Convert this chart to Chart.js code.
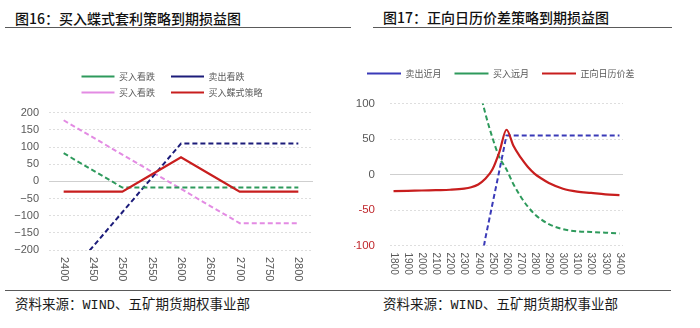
<!DOCTYPE html>
<html lang="zh-CN">
<head>
<meta charset="utf-8">
<title>蝶式套利 / 日历价差 到期损益图</title>
<script src="https://cdn.jsdelivr.net/npm/chart.js@4.4.1/dist/chart.umd.min.js"></script>
<style>
  html, body { margin: 0; padding: 0; background: #fff; }
  body { width: 700px; height: 328px; position: relative; overflow: hidden; font-family: "Noto Sans CJK SC", sans-serif; }
  .title { position: absolute; font-size: 14px; font-weight: 500; line-height: 1; color: #111; white-space: nowrap; }
  .rule { position: absolute; height: 0; border-top: 1.5px solid #5a5a5a; }
  .source { position: absolute; font-size: 13.5px; line-height: 1; color: #1a1a1a; white-space: nowrap;
            font-family: "Liberation Mono", "Noto Sans CJK SC", monospace; }
  canvas { position: absolute; }
</style>
</head>
<body>

<div class="title" style="left:15px; top:11px;">图16：买入蝶式套利策略到期损益图</div>
<div class="rule" style="left:5px; top:27px; width:346px;"></div>
<canvas id="chartButterfly" width="350" height="220" style="left:0; top:65px;"></canvas>

<div class="title" style="left:383px; top:10px;">图17：正向日历价差策略到期损益图</div>
<div class="rule" style="left:373px; top:26.5px; width:299px;"></div>
<canvas id="chartCalendar" width="350" height="229" style="left:350px; top:56px;"></canvas>

<div class="rule" style="left:5px; top:290px; width:666px;"></div>
<div class="source" style="left:15px; top:299px;">资料来源：WIND、五矿期货期权事业部</div>
<div class="source" style="left:383px; top:299px;">资料来源：WIND、五矿期货期权事业部</div>

<script>
// ── 图16 数据：标的价格（类目）与各腿到期损益
const flyPrices   = ['2400','2450','2500','2550','2600','2650','2700','2750','2800'];
const flyBuyPutA  = [82, 32, -18, -18, -18, -18, -18, -18, -18];        // 买入看跌（绿）
const flySellPut  = [-290, -190, -90, 10, 110, 110, 110, 110, 110];     // 卖出看跌（深蓝）
const flyBuyPutB  = [178, 128, 78, 28, -22, -72, -122, -122, -122];     // 买入看跌（粉）
const flyStrategy = [-30, -30, -30, 20, 70, 20, -30, -30, -30];         // 买入蝶式策略（红）

// ── 图17 数据：标的价格与各腿到期损益
const calPrices   = [1800, 1900, 2000, 2100, 2200, 2300, 2350, 2400, 2450, 2500, 2550, 2600,
                     2650, 2700, 2750, 2800, 2850, 2900, 3000, 3100, 3200, 3300, 3400];
const calSellNear = [null, null, null, null, null, null, null, -145, -90, -42, 6, 55,
                     55, 55, 55, 55, 55, 55, 55, 55, 55, 55, 55];
const calBuyFar   = [null, null, null, null, null, null, null, 127, 86, 52, 24, 7,
                     -14, -31, -45, -56, -64, -70, -77, -80, -81, -82, -83];
const calSpread   = [-23.5, -23, -22.5, -22, -21.5, -20, -18, -14, -6, 7, 32, 63,
                     40, 24, 11, 1, -6, -12, -20, -24, -26, -28, -29];
const calTicks    = [1800, 1900, 2000, 2100, 2200, 2300, 2400, 2500, 2600, 2700, 2800,
                     2900, 3000, 3100, 3200, 3300, 3400];

const GRAY = '#595959';
const CJK  = '"Noto Sans CJK SC", sans-serif';

// Rótulos do eixo x rodados 90° no sentido horário (o Chart.js só roda ao contrário)
const verticalTicks = {
  id: 'verticalTicks',
  afterDraw(chart, args, opts) {
    const scale = chart.scales.x;
    const ctx = chart.ctx;
    ctx.save();
    ctx.font = opts.font;
    ctx.fillStyle = GRAY;
    ctx.textAlign = 'left';
    ctx.textBaseline = 'middle';
    scale.ticks.forEach((t, i) => {
      ctx.save();
      ctx.translate(scale.getPixelForTick(i), scale.top + opts.gap);
      ctx.rotate(Math.PI / 2);
      ctx.fillText(t.label, 0, 0);
      ctx.restore();
    });
    ctx.restore();
  }
};

// Espaço extra entre a legenda e a área do gráfico
const legendGap = {
  id: 'legendGap',
  beforeInit(chart, args, opts) {
    const fit = chart.legend.fit;
    chart.legend.fit = function () {
      fit.call(this);
      this.height += opts.extra;
    };
  }
};

function dashed(label, data, color, extra) {
  return Object.assign({
    label, data,
    borderColor: color, backgroundColor: color,
    borderWidth: 2, borderDash: [5, 3],
    pointRadius: 0, tension: 0, fill: false
  }, extra || {});
}

function gridDash(ctx) {
  return ctx.tick && ctx.tick.value === 0 ? [] : [2, 2];
}
function gridColor(ctx) {
  return ctx.tick && ctx.tick.value === 0 ? '#cfcfcf' : '#dedede';
}

// ── 图16
const flyPad = ['\u3000', '\u3000\u3000\u3000\u3000', '\u3000', '\u3000\u3000'];
new Chart(document.getElementById('chartButterfly'), {
  type: 'line',
  data: {
    labels: flyPrices,
    datasets: [
      dashed('买入看跌', flyBuyPutA, '#2e9a5c'),
      dashed('卖出看跌', flySellPut, '#1c1c7a'),
      dashed('买入看跌', flyBuyPutB, '#e38be3'),
      { label: '买入蝶式策略', data: flyStrategy, borderColor: '#c81e1e', backgroundColor: '#c81e1e',
        borderWidth: 2.2, pointRadius: 0, tension: 0, fill: false, order: -1 }
    ]
  },
  options: {
    responsive: false,
    animation: false,
    layout: { padding: { left: 0, right: 37, top: 0, bottom: 0 } },
    plugins: {
      legend: {
        fullSize: false,
        labels: {
          usePointStyle: true, pointStyle: 'line', pointStyleWidth: 33,
          padding: 7, color: GRAY, font: { family: CJK, size: 9 },
          sort: (a, b) => a.datasetIndex - b.datasetIndex,
          generateLabels(chart) {
            const items = Chart.defaults.plugins.legend.labels.generateLabels(chart);
            items.forEach(it => { it.text += flyPad[it.datasetIndex]; });
            return items;
          }
        }
      },
      tooltip: { enabled: false },
      legendGap: { extra: 5.7 },
      verticalTicks: { font: '11px "Liberation Sans Narrow", "Liberation Sans", sans-serif', gap: 7 }
    },
    scales: {
      x: {
        offset: true,
        grid: { display: false },
        border: { display: false },
        ticks: { display: false },
        afterFit(scale) { scale.height = 35; }
      },
      y: {
        min: -200, max: 200,
        grid: { drawTicks: false, color: gridColor },
        border: { display: false, dash: gridDash },
        ticks: {
          stepSize: 50, padding: 10, color: GRAY,
          font: { family: '"Liberation Sans Narrow", "Liberation Sans", sans-serif', size: 11 },
          callback: v => v < 0 ? '\u2212' + Math.abs(v) : String(v)
        },
        afterFit(scale) { scale.width = 49; }
      }
    }
  },
  plugins: [verticalTicks, legendGap]
});

// ── 图17
new Chart(document.getElementById('chartCalendar'), {
  type: 'line',
  data: {
    labels: calPrices,
    datasets: [
      dashed('卖出近月', calSellNear, '#3a3ab8'),
      dashed('买入远月', calBuyFar, '#2e9a5c', { cubicInterpolationMode: 'monotone' }),
      { label: '正向日历价差', data: calSpread, borderColor: '#c81e1e', backgroundColor: '#c81e1e',
        borderWidth: 2.2, pointRadius: 0, cubicInterpolationMode: 'monotone', fill: false, order: -1 }
    ]
  },
  options: {
    responsive: false,
    animation: false,
    // a legenda ocupa a largura toda; o espaço à direita da área do gráfico vem do eixo "margem"
    layout: { padding: { left: 4, right: 48, top: 0, bottom: 0 } },
    plugins: {
      legend: {
        align: 'start',
        labels: {
          usePointStyle: true, pointStyle: 'line', pointStyleWidth: 34,
          padding: 13, color: GRAY, font: { family: CJK, size: 9 },
          sort: (a, b) => a.datasetIndex - b.datasetIndex
        }
      },
      tooltip: { enabled: false },
      legendGap: { extra: 15.5 },
      verticalTicks: { font: '10px "Liberation Sans", sans-serif', gap: 7 }
    },
    scales: {
      x: {
        type: 'linear',
        min: 1775, max: 3425,
        grid: { display: false },
        border: { display: false },
        ticks: { display: false, callback: v => String(v) },
        afterBuildTicks(scale) { scale.ticks = calTicks.map(v => ({ value: v })); },
        afterFit(scale) { scale.height = 39.5; }
      },
      y: {
        min: -100, max: 100,
        grid: { drawTicks: false, color: gridColor },
        border: { display: false, dash: gridDash },
        ticks: {
          stepSize: 50, padding: 15,
          color: ctx => ctx.tick && ctx.tick.value < 0 ? '#c0282d' : GRAY,
          font: { family: '"Liberation Sans", sans-serif', size: 11.5 }
        },
        afterFit(scale) { scale.width = 36; }
      },
      margem: {
        type: 'linear',
        position: 'right',
        grid: { display: false },
        border: { display: false },
        ticks: { display: false },
        afterFit(scale) { scale.width = 29; }
      }
    }
  },
  plugins: [verticalTicks, legendGap]
});
</script>
</body>
</html>
